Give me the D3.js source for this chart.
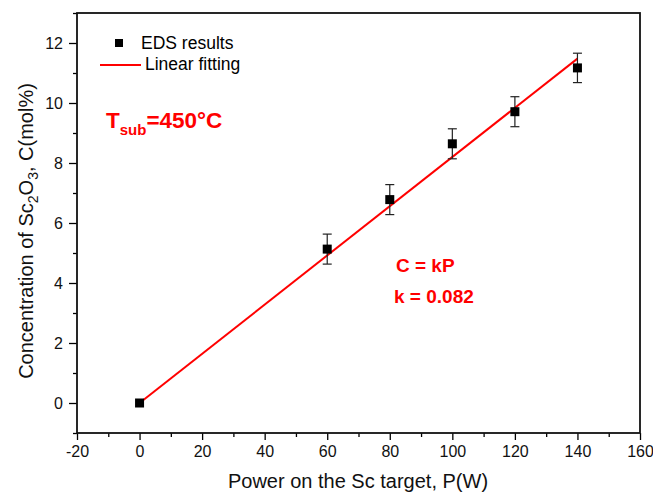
<!DOCTYPE html>
<html>
<head>
<meta charset="utf-8">
<script src="https://cdn.jsdelivr.net/npm/d3@7"></script>
<style>
  body { margin: 0; background: #fff; }
  svg { font-family: Arial, "Liberation Sans", sans-serif; }
  .tick text { font-size: 16px; fill: #111; }
</style>
</head>
<body>
<div id="chart"></div>
<script>
// data
const power = [0, 60, 80, 100, 120, 140];
const conc = [0, 5.13, 6.78, 8.64, 9.71, 11.17];
const errs = [0, 0.5, 0.5, 0.5, 0.5, 0.49];
const fitX = [0, 140];
const fitY = [0, 11.48];
const xTicks = [-20, 0, 20, 40, 60, 80, 100, 120, 140, 160];
const yTicks = [0, 2, 4, 6, 8, 10, 12];

const w = 653, h = 495;
const margin = { left: 77, right: 13, top: 13, bottom: 62 };

const svg = d3.select('#chart')
    .append('svg')
    .attr('width', w)
    .attr('height', h);

const x = d3.scaleLinear().domain([-20, 160]).range([margin.left, w - margin.right]);
const y = d3.scaleLinear().domain([-1, 13]).range([h - margin.bottom, margin.top]);

// minor ticks first
svg.append('g')
    .attr('transform', `translate(0, ${h - margin.bottom})`)
    .call(d3.axisBottom(x).tickValues(d3.range(-10, 160, 20)).tickSize(4).tickFormat('').tickSizeOuter(0))
    .call(g => g.select('.domain').remove())
    .call(g => g.selectAll('line').attr('stroke-width', 1.3));

svg.append('g')
    .attr('transform', `translate(${margin.left}, 0)`)
    .call(d3.axisLeft(y).tickValues(d3.range(-1, 14, 2)).tickSize(4).tickFormat('').tickSizeOuter(0))
    .call(g => g.select('.domain').remove())
    .call(g => g.selectAll('line').attr('stroke-width', 1.3));

// major ticks
svg.append('g')
    .attr('transform', `translate(0, ${h - margin.bottom})`)
    .call(d3.axisBottom(x).tickValues(xTicks).tickSize(7).tickPadding(6).tickSizeOuter(0)
        .tickFormat(d => String(d)))
    .call(g => g.select('.domain').remove())
    .call(g => g.selectAll('line').attr('stroke-width', 1.3));

svg.append('g')
    .attr('transform', `translate(${margin.left}, 0)`)
    .call(d3.axisLeft(y).tickValues(yTicks).tickSize(8).tickPadding(6).tickSizeOuter(0)
        .tickFormat(d => String(d)))
    .call(g => g.select('.domain').remove())
    .call(g => g.selectAll('line').attr('stroke-width', 1.3));

// frame
svg.append('rect')
    .attr('x', margin.left)
    .attr('y', margin.top)
    .attr('width', w - margin.left - margin.right)
    .attr('height', h - margin.top - margin.bottom)
    .attr('fill', 'none')
    .attr('stroke', '#111')
    .attr('stroke-width', 1.8);

// fit line
svg.append('path')
    .datum(fitX.map((d, i) => [d, fitY[i]]))
    .attr('fill', 'none')
    .attr('stroke', '#ff0000')
    .attr('stroke-width', 2)
    .attr('d', d3.line().x(d => x(d[0])).y(d => y(d[1])));

// error bars
const pts = power.map((p, i) => ({ p: p, c: conc[i], e: errs[i] }));
const eb = svg.append('g').attr('stroke', '#222').attr('stroke-width', 1.2);
pts.filter(d => d.e > 0).forEach(d => {
    eb.append('line').attr('x1', x(d.p)).attr('x2', x(d.p)).attr('y1', y(d.c + d.e)).attr('y2', y(d.c - d.e));
    eb.append('line').attr('x1', x(d.p) - 4.5).attr('x2', x(d.p) + 4.5).attr('y1', y(d.c + d.e)).attr('y2', y(d.c + d.e));
    eb.append('line').attr('x1', x(d.p) - 4.5).attr('x2', x(d.p) + 4.5).attr('y1', y(d.c - d.e)).attr('y2', y(d.c - d.e));
});

// squares
svg.selectAll('rect.pt')
    .data(pts)
    .enter()
    .append('rect')
    .attr('class', 'pt')
    .attr('x', d => x(d.p) - 4.5)
    .attr('y', d => y(d.c) - 4.5)
    .attr('width', 9)
    .attr('height', 9)
    .attr('fill', '#000');

// legend
svg.append('rect').attr('x', 115).attr('y', 39).attr('width', 8).attr('height', 8).attr('fill', '#000');
svg.append('text').attr('x', 141).attr('y', 49).attr('font-size', 17.5).text('EDS results');
svg.append('line').attr('x1', 100).attr('x2', 141).attr('y1', 65).attr('y2', 65)
    .attr('stroke', '#ff0000').attr('stroke-width', 2);
svg.append('text').attr('x', 145).attr('y', 70).attr('font-size', 17.5).text('Linear fitting');

// annotations
const tsub = svg.append('text').attr('x', 106).attr('y', 128)
    .attr('fill', '#ff0000').attr('font-weight', 'bold').attr('font-size', 22.5);
tsub.append('tspan').text('T');
tsub.append('tspan').attr('dy', 7).attr('font-size', 15).text('sub');
tsub.append('tspan').attr('dy', -7).text('=450°C');

svg.append('text').attr('x', 396).attr('y', 272)
    .attr('fill', '#ff0000').attr('font-weight', 'bold').attr('font-size', 19).text('C = kP');
svg.append('text').attr('x', 394).attr('y', 303)
    .attr('fill', '#ff0000').attr('font-weight', 'bold').attr('font-size', 19).text('k = 0.082');

// axis titles
svg.append('text')
    .attr('x', 358)
    .attr('y', 488)
    .attr('text-anchor', 'middle')
    .attr('font-size', 20)
    .attr('fill', '#111')
    .text('Power on the Sc target, P(W)');

const yl = svg.append('text')
    .attr('transform', 'translate(33, 231) rotate(-90)')
    .attr('text-anchor', 'middle')
    .attr('font-size', 20)
    .attr('fill', '#111');
yl.append('tspan').text('Concentration of Sc');
yl.append('tspan').attr('dy', 5).attr('font-size', 14).text('2');
yl.append('tspan').attr('dy', -5).text('O');
yl.append('tspan').attr('dy', 5).attr('font-size', 14).text('3');
yl.append('tspan').attr('dy', -5).text(', C(mol%)');
</script>
</body>
</html>
